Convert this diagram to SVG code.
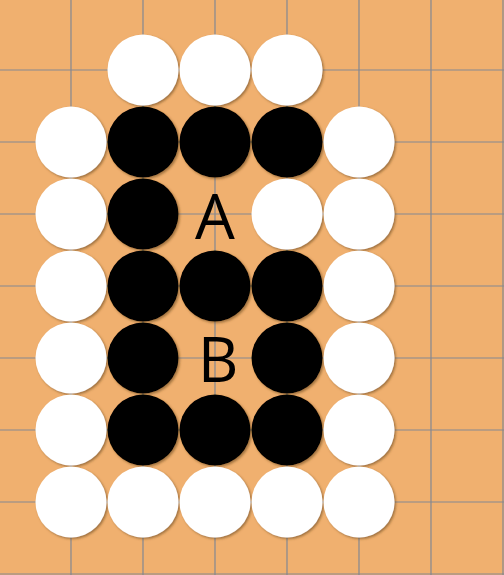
<svg xmlns="http://www.w3.org/2000/svg" width="504" height="575" viewBox="0 0 504 575">
<defs>
<style>
.ln{stroke:#838892;stroke-width:1.2}
.w{fill:#ffffff;filter:url(#sh)}
.b{fill:#000000;filter:url(#sh)}
.lbl{font-family:"Open Sans","Liberation Sans",Arial,sans-serif;font-size:63px;fill:#000;text-anchor:middle}
</style>
<filter id="sh" x="-20%" y="-20%" width="140%" height="140%">
<feDropShadow dx="1.5" dy="1.5" stdDeviation="1.2" flood-color="#6b4a20" flood-opacity="0.6"/>
</filter>
</defs>
<rect width="504" height="575" fill="#F0B06F"/>
<g id="grid">
<line class="ln" x1="71" y1="0" x2="71" y2="575"/>
<line class="ln" x1="143" y1="0" x2="143" y2="575"/>
<line class="ln" x1="215" y1="0" x2="215" y2="575"/>
<line class="ln" x1="287" y1="0" x2="287" y2="575"/>
<line class="ln" x1="359" y1="0" x2="359" y2="575"/>
<line class="ln" x1="431" y1="0" x2="431" y2="575"/>
<line class="ln" x1="503" y1="0" x2="503" y2="575"/>
<line class="ln" x1="0" y1="70" x2="504" y2="70"/>
<line class="ln" x1="0" y1="142" x2="504" y2="142"/>
<line class="ln" x1="0" y1="214" x2="504" y2="214"/>
<line class="ln" x1="0" y1="286" x2="504" y2="286"/>
<line class="ln" x1="0" y1="358" x2="504" y2="358"/>
<line class="ln" x1="0" y1="430" x2="504" y2="430"/>
<line class="ln" x1="0" y1="502" x2="504" y2="502"/>
<line class="ln" x1="0" y1="574" x2="504" y2="574"/>
</g>
<g id="stones">
<circle class="w" cx="143" cy="70" r="35.5"/>
<circle class="w" cx="215" cy="70" r="35.5"/>
<circle class="w" cx="287" cy="70" r="35.5"/>
<circle class="w" cx="71" cy="142" r="35.5"/>
<circle class="b" cx="143" cy="142" r="35.5"/>
<circle class="b" cx="215" cy="142" r="35.5"/>
<circle class="b" cx="287" cy="142" r="35.5"/>
<circle class="w" cx="359" cy="142" r="35.5"/>
<circle class="w" cx="71" cy="214" r="35.5"/>
<circle class="b" cx="143" cy="214" r="35.5"/>
<circle class="w" cx="287" cy="214" r="35.5"/>
<circle class="w" cx="359" cy="214" r="35.5"/>
<circle class="w" cx="71" cy="286" r="35.5"/>
<circle class="b" cx="143" cy="286" r="35.5"/>
<circle class="b" cx="215" cy="286" r="35.5"/>
<circle class="b" cx="287" cy="286" r="35.5"/>
<circle class="w" cx="359" cy="286" r="35.5"/>
<circle class="w" cx="71" cy="358" r="35.5"/>
<circle class="b" cx="143" cy="358" r="35.5"/>
<circle class="b" cx="287" cy="358" r="35.5"/>
<circle class="w" cx="359" cy="358" r="35.5"/>
<circle class="w" cx="71" cy="430" r="35.5"/>
<circle class="b" cx="143" cy="430" r="35.5"/>
<circle class="b" cx="215" cy="430" r="35.5"/>
<circle class="b" cx="287" cy="430" r="35.5"/>
<circle class="w" cx="359" cy="430" r="35.5"/>
<circle class="w" cx="71" cy="502" r="35.5"/>
<circle class="w" cx="143" cy="502" r="35.5"/>
<circle class="w" cx="215" cy="502" r="35.5"/>
<circle class="w" cx="287" cy="502" r="35.5"/>
<circle class="w" cx="359" cy="502" r="35.5"/>
</g>
<g id="labels">
<text class="lbl" x="215" y="239">A</text>
<text class="lbl" x="218" y="382">B</text>
</g>
</svg>
